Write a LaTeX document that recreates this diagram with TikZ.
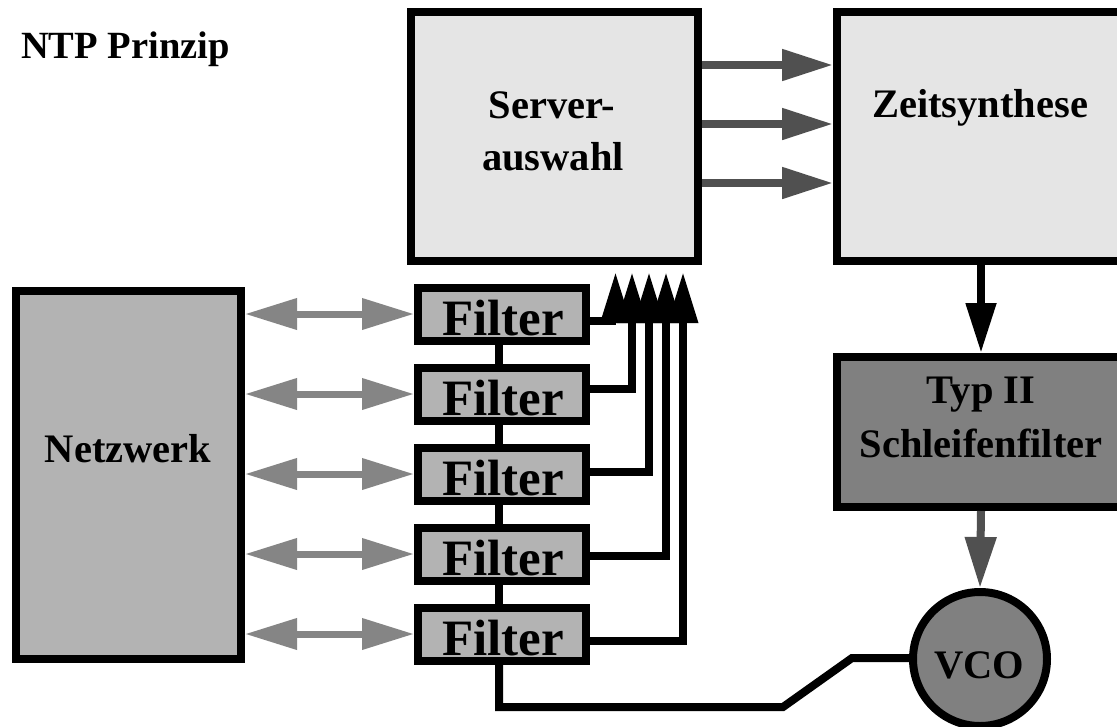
\documentclass[tikz,border=0pt]{standalone}
\usepackage{fontspec}
\setmainfont{Liberation Serif}
\usetikzlibrary{arrows.meta}
\definecolor{paleface}{HTML}{E5E5E5}
\definecolor{midface}{HTML}{B3B3B3}
\definecolor{darkface}{HTML}{808080}
\definecolor{flowgray}{HTML}{505050}
\definecolor{linkgray}{HTML}{858585}
\begin{document}
\begin{tikzpicture}[x=1pt,y=-1pt,
  block/.style={draw=black, line width=8pt, inner sep=0pt, rectangle},
  filterbox/.style={block, fill=midface, minimum width=168pt, minimum height=53pt},
  caption/.style={anchor=base, inner sep=0pt, font=\bfseries\fontsize{40.5}{48}\selectfont},
  bigcaption/.style={anchor=base, inner sep=0pt, font=\bfseries\fontsize{51}{60}\selectfont},
  wire/.style={draw=black, line width=8pt, line join=miter},
  feed/.style={wire, -{Triangle[length=51pt,width=28.5pt]}, shorten >=7pt},
  flow/.style={draw=flowgray, line width=8pt, -{Triangle[length=51pt,width=30pt]}},
  down/.style={draw=black, line width=8pt, -{Triangle[length=50pt,width=29pt]}},
  link/.style={draw=linkgray, line width=7pt, {Triangle[length=52pt,width=30pt]}-{Triangle[length=52pt,width=30pt]}}]
\fill[white] (0,0) rectangle (1117,726);
\path[use as bounding box] (0,0) rectangle (1117,726);
\clip (0,0) rectangle (1117,726);

% title
\node[caption, anchor=base west, font=\bfseries\fontsize{38.5}{44}\selectfont] (title) at (21,58) {NTP Prinzip};

% main blocks
\node[block, fill=paleface, minimum width=287pt, minimum height=249pt] (sa) at (554.5,136.5) {};
\node[block, fill=paleface, minimum width=288pt, minimum height=249pt] (zs) at (981,136.5) {};
\node[block, fill=darkface, minimum width=288pt, minimum height=150pt] (typ) at (981,432) {};
\node[block, fill=midface, minimum width=225pt, minimum height=368pt] (net) at (128.5,475) {};
\node[draw=black, line width=8pt, circle, fill=darkface, minimum size=134pt, inner sep=0pt] (vco) at (980,659) {};

\node[caption] (saA) at (552,118) {Server-};
\node[caption] (saB) at (553,170) {auswahl};
\node[caption] (zsT) at (980,117) {Zeitsynthese};
\node[caption] (typA) at (981,403) {Typ II};
\node[caption] (typB) at (981,457) {Schleifenfilter};
\node[caption] (netT) at (128,462) {Netzwerk};
\node[caption] (vcoT) at (979,678) {VCO};

% filter chain with its links to the network
\foreach \i/\y in {1/314,2/394,3/474,4/554,5/634}{
  \node[filterbox] (f\i) at (502,\y) {};
  \node[bigcaption] (f\i t) at (503,\y+21) {Filter};
  \coordinate (l\i) at (0,\y);
  \draw[link] (net.east |- l\i) -- (f\i.west |- l\i);
}
\foreach \a/\b in {1/2,2/3,3/4,4/5}{
  \draw[wire] ([xshift=-3pt]f\a.south) -- ([xshift=-3pt]f\b.north);
}

% filter outputs into the server selection
\foreach \i/\y/\dx in {1/321/61,2/389/77.5,3/472/94.5,4/556/111.5,5/641/128.5}{
  \coordinate (o\i) at (0,\y);
  \draw[feed] (f\i.east |- o\i) -| ([xshift=\dx pt]sa.south);
}

% selection to synthesis
\foreach \y in {65,124,183}{
  \coordinate (s\y) at (0,\y);
  \draw[flow] (sa.east |- s\y) -- (zs.west |- s\y);
}

\draw[down] (zs.south) -- (typ.north);
\draw[flow] (typ.south) -- (vco.north);

% feedback from the last filter to the oscillator
\coordinate (bendA) at (783,707);
\coordinate (bendB) at (852,658);
\draw[wire] ([xshift=-3pt]f5.south) -- ([xshift=-3pt]f5.south |- bendA) -- (bendA) -- (bendB) -- (vco.west |- bendB);
\end{tikzpicture}
\end{document}
